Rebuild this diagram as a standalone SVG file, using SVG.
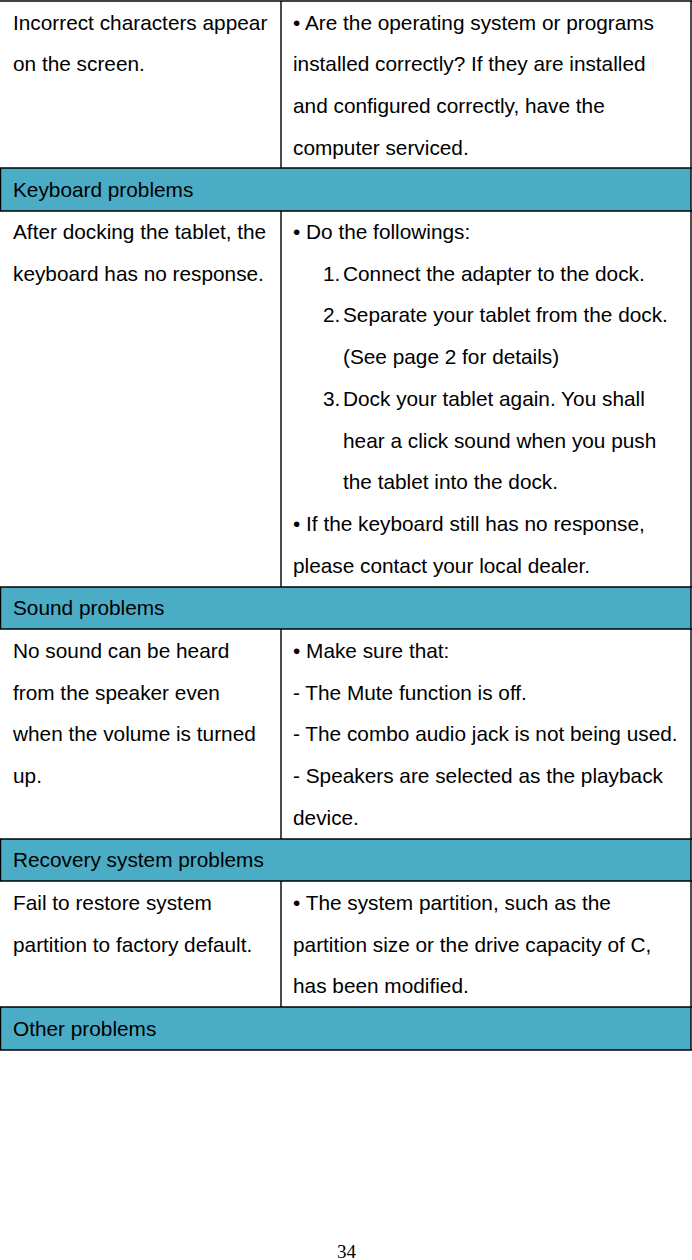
<svg xmlns="http://www.w3.org/2000/svg" width="692" height="1260" viewBox="0 0 692 1260">
<style>
.t{font-family:"Liberation Sans",Arial,sans-serif;font-size:20.8px;fill:#000}
.h{fill:#4BACC6}
.ln{stroke:#000;stroke-width:1.4;fill:none}
.pg{font-family:"Liberation Serif","Times New Roman",serif;font-size:19px;fill:#000}
</style>
<rect width="692" height="1260" fill="#fff"/>
<g id="headers">
<rect class="h" x="0" y="168" width="691" height="43"/>
<rect class="h" x="0" y="587" width="691" height="42"/>
<rect class="h" x="0" y="839" width="691" height="42"/>
<rect class="h" x="0" y="1007" width="691" height="43"/>
</g>
<g id="grid">
<line class="ln" x1="0" y1="1" x2="692" y2="1"/>
<line class="ln" x1="0" y1="168" x2="692" y2="168"/>
<line class="ln" x1="0" y1="211" x2="692" y2="211"/>
<line class="ln" x1="0" y1="587" x2="692" y2="587"/>
<line class="ln" x1="0" y1="629" x2="692" y2="629"/>
<line class="ln" x1="0" y1="839" x2="692" y2="839"/>
<line class="ln" x1="0" y1="881" x2="692" y2="881"/>
<line class="ln" x1="0" y1="1007" x2="692" y2="1007"/>
<line class="ln" x1="0" y1="1050" x2="692" y2="1050"/>
<line class="ln" x1="691" y1="1" x2="691" y2="1050"/>
<line class="ln" x1="0.5" y1="168" x2="0.5" y2="211"/>
<line class="ln" x1="0.5" y1="587" x2="0.5" y2="629"/>
<line class="ln" x1="0.5" y1="839" x2="0.5" y2="881"/>
<line class="ln" x1="0.5" y1="1007" x2="0.5" y2="1050"/>
<line class="ln" x1="281" y1="1" x2="281" y2="168"/>
<line class="ln" x1="281" y1="211" x2="281" y2="587"/>
<line class="ln" x1="281" y1="629" x2="281" y2="839"/>
<line class="ln" x1="281" y1="881" x2="281" y2="1007"/>
</g>
<g id="row1">
<text class="t" x="13" y="29.5">Incorrect characters appear</text>
<text class="t" x="13" y="71.2">on the screen.</text>
<text class="t" x="293" y="29.5">• Are the operating system or programs</text>
<text class="t" x="293" y="71.2">installed correctly? If they are installed</text>
<text class="t" x="293" y="112.9">and configured correctly, have the</text>
<text class="t" x="293" y="154.6">computer serviced.</text>
</g>
<g id="hdr-keyboard"><text class="t" x="13" y="197">Keyboard problems</text></g>
<g id="row2">
<text class="t" x="13" y="239">After docking the tablet, the</text>
<text class="t" x="13" y="280.7">keyboard has no response.</text>
<text class="t" x="293" y="239">• Do the followings:</text>
<text class="t" x="323" y="280.7">1.</text><text class="t" x="343" y="280.7">Connect the adapter to the dock.</text>
<text class="t" x="323" y="322.4">2.</text><text class="t" x="343" y="322.4">Separate your tablet from the dock.</text>
<text class="t" x="343" y="364.1">(See page 2 for details)</text>
<text class="t" x="323" y="405.8">3.</text><text class="t" x="343" y="405.8">Dock your tablet again. You shall</text>
<text class="t" x="343" y="447.5">hear a click sound when you push</text>
<text class="t" x="343" y="489.2">the tablet into the dock.</text>
<text class="t" x="293" y="530.9">• If the keyboard still has no response,</text>
<text class="t" x="293" y="572.6">please contact your local dealer.</text>
</g>
<g id="hdr-sound"><text class="t" x="13" y="615">Sound problems</text></g>
<g id="row3">
<text class="t" x="13" y="658">No sound can be heard</text>
<text class="t" x="13" y="699.7">from the speaker even</text>
<text class="t" x="13" y="741.4">when the volume is turned</text>
<text class="t" x="13" y="783.1">up.</text>
<text class="t" x="293" y="658">• Make sure that:</text>
<text class="t" x="293" y="699.7">- The Mute function is off.</text>
<text class="t" x="293" y="741.4">- The combo audio jack is not being used.</text>
<text class="t" x="293" y="783.1">- Speakers are selected as the playback</text>
<text class="t" x="293" y="824.8">device.</text>
</g>
<g id="hdr-recovery"><text class="t" x="13" y="867">Recovery system problems</text></g>
<g id="row4">
<text class="t" x="13" y="910">Fail to restore system</text>
<text class="t" x="13" y="951.7">partition to factory default.</text>
<text class="t" x="293" y="910">• The system partition, such as the</text>
<text class="t" x="293" y="951.7">partition size or the drive capacity of C,</text>
<text class="t" x="293" y="993.4">has been modified.</text>
</g>
<g id="hdr-other"><text class="t" x="13" y="1036">Other problems</text></g>
<g id="page"><text class="pg" x="346.5" y="1258" text-anchor="middle">34</text></g>
</svg>
